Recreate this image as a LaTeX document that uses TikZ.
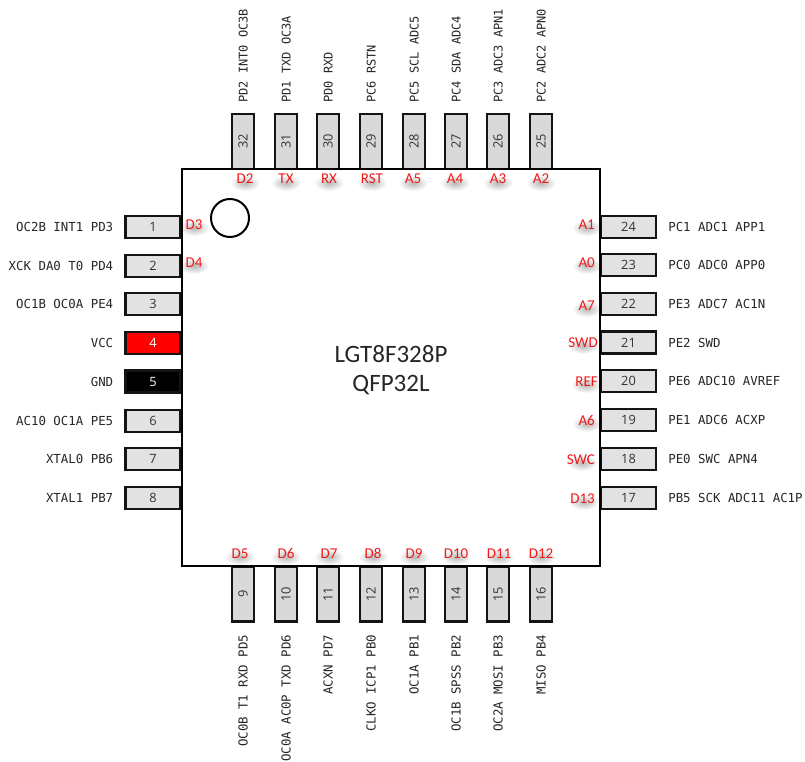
\documentclass[tikz,border=0pt]{standalone}
\usepackage{fontspec}
\setmainfont{Carlito}
\newfontfamily\pinlabelfont{DejaVu Sans Mono}
\newfontfamily\pinnumfont{Open Sans}
\definecolor{pinfill}{HTML}{E2E2E2}
\definecolor{pinfillv}{HTML}{D9D9D9}
\definecolor{sigred}{HTML}{F01818}
\definecolor{edge}{HTML}{141414}
\tikzset{
  x=1pt,y=-1pt,
  pinbox/.style={draw=edge,line width=2.2pt,fill=pinfill,minimum width=55pt,minimum height=22pt,inner sep=0pt,text=black!80,font=\pinnumfont\fontsize{12.8}{13}\selectfont},
  vpinbox/.style={pinbox,fill=pinfillv,rotate=90},
  pinlabel/.style={inner sep=0pt,text height=9pt,text depth=0pt,text=black!85,font=\pinlabelfont\fontsize{12.4}{13}\selectfont},
  toplabel/.style={pinlabel,font=\pinlabelfont\fontsize{12}{13}\selectfont},
  signal/.style={inner sep=0pt,text height=10pt,text depth=0pt,text=sigred,font=\fontsize{15}{16}\selectfont},
  chipbody/.style={draw=black,line width=2pt},
  chiptitle/.style={align=center,font=\fontsize{25}{29}\selectfont,text=black!85,inner sep=0pt},
}
\newcommand{\softshadow}[3]{\shade[inner color=black!28,outer color=white,draw=none] (#1,#2+4) ellipse [x radius=#3,y radius=8];}
\begin{document}
\begin{tikzpicture}
\useasboundingbox (0,0) rectangle (805,762);
% soft shadows under the red labels
\foreach \x in {245,286,329,372,413,455,498,541} {\softshadow{\x}{179}{15}}
\foreach \x in {240,286,329,373,414,456,499,541} {\softshadow{\x}{553}{15}}
\foreach \x/\y in {194/224,194/262,587/224,587/262,587/305,583/342,586/381,587/420,582/459,584/498} {\softshadow{\x}{\y}{15}}
% pins
\foreach \n/\y in {1/227,2/266,3/304,6/421,7/459,8/498} {\node[pinbox] (pin\n) at (153,\y) {\n};}
\node[pinbox,fill=red,text=white] (pin4) at (153,343) {4};
\node[pinbox,fill=black,text=white] (pin5) at (153,381.5) {5};
\foreach \n/\y in {24/227,23/265,22/304,21/342.5,20/381,19/420,18/459,17/498} {\node[pinbox] (pin\n) at (628.5,\y) {\n};}
\foreach \n/\x in {32/243,31/286,30/328,29/371,28/414,27/456,26/498,25/541} {\node[vpinbox] (pin\n) at (\x,141.5) {\n};}
\foreach \n/\x in {9/243,10/286,11/328,12/371,13/414,14/456,15/498,16/541} {\node[vpinbox] (pin\n) at (\x,594) {\n};}
% chip
\node[chipbody,minimum width=418pt,minimum height=397pt,inner sep=0pt] (chip) at (391,367.5) {};
\draw[black,line width=2pt] (230,218) circle [radius=19];
\node[chiptitle] (title) at (391,370) {LGT8F328P\\QFP32L};
% left labels
\foreach \n/\t in {1/OC2B INT1 PD3,2/XCK DA0 T0 PD4,3/OC1B OC0A PE4,4/VCC,5/GND,6/AC10 OC1A PE5,7/XTAL0 PB6,8/XTAL1 PB7}
  {\node[pinlabel,anchor=east] (lab\n) at ([xshift=-11pt]pin\n.west) {\t};}
% right labels
\foreach \n/\t in {24/PC1 ADC1 APP1,23/PC0 ADC0 APP0,22/PE3 ADC7 AC1N,21/PE2 SWD,20/PE6 ADC10 AVREF,19/PE1 ADC6 ACXP,18/PE0 SWC APN4,17/PB5 SCK ADC11 AC1P}
  {\node[pinlabel,anchor=west] (lab\n) at ([xshift=11pt]pin\n.east) {\t};}
% top labels
\foreach \n/\t in {32/PD2 INT0 OC3B,31/PD1 TXD OC3A,30/PD0 RXD,29/PC6 RSTN,28/PC5 SCL ADC5,27/PC4 SDA ADC4,26/PC3 ADC3 APN1,25/PC2 ADC2 APN0}
  {\node[toplabel,rotate=90,anchor=west] (lab\n) at ([yshift=10pt]pin\n.east) {\t};}
% bottom labels
\foreach \n/\t in {9/OC0B T1 RXD PD5,10/OC0A AC0P TXD PD6,11/ACXN PD7,12/CLKO ICP1 PB0,13/OC1A PB1,14/OC1B SPSS PB2,15/OC2A MOSI PB3,16/MISO PB4}
  {\node[pinlabel,rotate=90,anchor=east] (lab\n) at ([yshift=-12pt]pin\n.west) {\t};}
% red signal names
\foreach \n/\x/\t in {a/245/D2,b/286/TX,c/329/RX,d/372/RST,e/413/A5,f/455/A4,g/498/A3,h/541/A2}
  {\node[signal] (top\n) at (\x,179) {\t};}
\foreach \n/\x/\t in {a/240/D5,b/286/D6,c/329/D7,d/373/D8,e/414/D9,f/456/D10,g/499/D11,h/541/D12}
  {\node[signal] (bot\n) at (\x,553) {\t};}
\node[signal] (sigD3) at (194,224) {D3};
\node[signal] (sigD4) at (194,262) {D4};
\foreach \n/\x/\y/\t in {a/595/224/A1,b/595/262/A0,c/595/305/A7,d/598/342/SWD,e/598/381/REF,f/595/420/A6,g/595/459/SWC,h/595/498/D13}
  {\node[signal,anchor=east] (rgt\n) at (\x,\y) {\t};}
\end{tikzpicture}
\end{document}
